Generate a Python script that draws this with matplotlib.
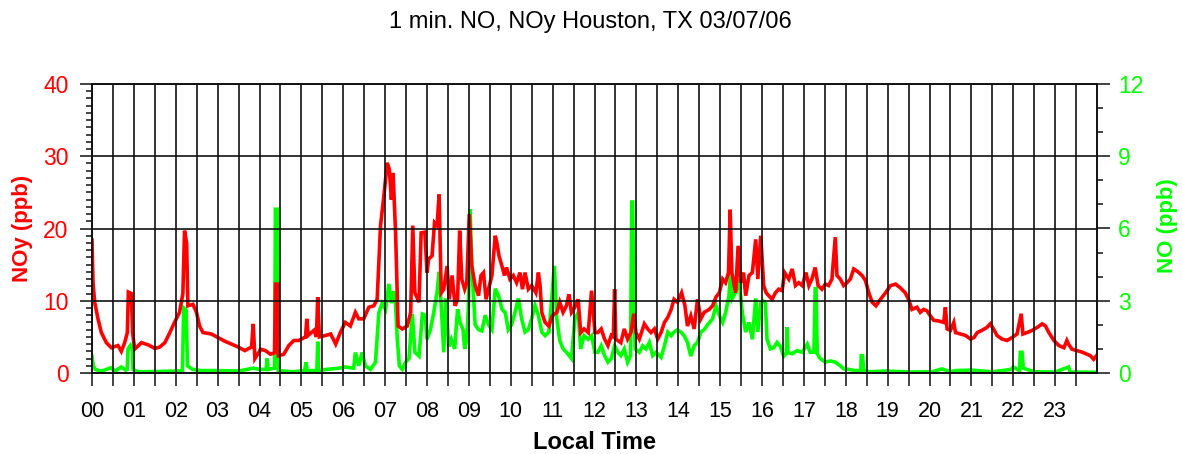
import matplotlib
matplotlib.use('Agg')
import matplotlib.pyplot as plt
import numpy as np

plt.rcParams['font.family'] = ['Liberation Sans', 'DejaVu Sans']

RED = '#FF0000'
GREEN = '#00FF00'
GRID = '#111111'

# NOy (ppb), left axis
noy_hour = [0.0, 0.024, 0.064, 0.143, 0.223, 0.342, 0.462, 0.62, 0.70, 0.78, 0.844, 0.868, 0.94, 0.97,
            1.02, 1.18, 1.34, 1.50, 1.62, 1.74, 1.86, 1.97, 2.09, 2.17, 2.21, 2.26, 2.29, 2.41, 2.49,
            2.57, 2.65, 2.85, 3.01, 3.17, 3.33, 3.49, 3.65, 3.81, 3.85, 3.89, 4.0, 4.02, 4.14, 4.26,
            4.36, 4.38, 4.43, 4.45, 4.58, 4.70, 4.82, 4.94, 5.10, 5.13, 5.16, 5.30, 5.36, 5.39, 5.43,
            5.58, 5.70, 5.82, 5.93, 6.05, 6.17, 6.29, 6.37, 6.49, 6.61, 6.73, 6.81, 6.89, 6.97, 7.05,
            7.10, 7.15, 7.19, 7.25, 7.31, 7.41, 7.53, 7.61, 7.66, 7.71, 7.81, 7.86, 7.95, 8.00, 8.04,
            8.12, 8.18, 8.24, 8.29, 8.34, 8.40, 8.48, 8.53, 8.60, 8.67, 8.73, 8.78, 8.83, 8.90, 8.95,
            9.01, 9.07, 9.15, 9.23, 9.29, 9.35, 9.41, 9.47, 9.55, 9.63, 9.67, 9.72, 9.79, 9.85, 9.90,
            9.98, 10.06, 10.14, 10.22, 10.28, 10.34, 10.42, 10.50, 10.60, 10.66, 10.70, 10.74, 10.82,
            10.91, 10.99, 11.10, 11.17, 11.25, 11.33, 11.39, 11.45, 11.53, 11.61, 11.67, 11.75, 11.85,
            11.93, 12.01, 12.08, 12.16, 12.24, 12.32, 12.40, 12.45, 12.48, 12.51, 12.63, 12.71, 12.79,
            12.87, 12.94, 12.99, 13.07, 13.19, 13.27, 13.35, 13.43, 13.51, 13.59, 13.67, 13.75, 13.83,
            13.90, 13.98, 14.08, 14.16, 14.22, 14.30, 14.38, 14.46, 14.54, 14.62, 14.74, 14.82, 14.90,
            14.98, 15.06, 15.13, 15.20, 15.24, 15.28, 15.37, 15.43, 15.49, 15.56, 15.61, 15.69, 15.77,
            15.85, 15.90, 15.97, 16.04, 16.10, 16.16, 16.24, 16.32, 16.40, 16.48, 16.54, 16.64, 16.72,
            16.80, 16.88, 16.96, 17.05, 17.12, 17.19, 17.27, 17.34, 17.43, 17.51, 17.59, 17.67, 17.75,
            17.79, 17.87, 17.95, 18.03, 18.11, 18.19, 18.27, 18.39, 18.47, 18.55, 18.63, 18.72, 18.83,
            18.95, 19.07, 19.19, 19.30, 19.42, 19.50, 19.58, 19.70, 19.78, 19.86, 19.94, 20.02, 20.10,
            20.22, 20.34, 20.38, 20.42, 20.50, 20.58, 20.62, 20.74, 20.86, 20.98, 21.06, 21.14, 21.25,
            21.37, 21.45, 21.53, 21.61, 21.73, 21.85, 21.97, 22.09, 22.19, 22.23, 22.33, 22.45, 22.57,
            22.69, 22.77, 22.85, 22.97, 23.09, 23.21, 23.28, 23.32, 23.40, 23.52, 23.64, 23.76, 23.84,
            23.92, 23.99]
noy_ppb = [18.4, 12.5, 9.8, 7.5, 5.6, 4.2, 3.5, 3.8, 3.0, 4.2, 5.6, 11.2, 11.0, 5.5,
           3.3, 4.2, 3.9, 3.4, 3.6, 4.2, 5.6, 7.0, 8.4, 11.0, 19.7, 18.0, 9.3, 9.5, 8.5,
           6.5, 5.6, 5.4, 4.9, 4.4, 4.0, 3.6, 3.1, 3.6, 6.8, 2.0, 3.0, 3.3, 3.1, 2.6,
           2.8, 12.3, 12.3, 2.4, 2.6, 3.8, 4.5, 4.5, 5.0, 7.5, 5.2, 5.9, 5.0, 10.5, 5.0,
           5.2, 5.4, 4.0, 5.6, 7.0, 6.5, 8.4, 7.5, 7.5, 9.1, 9.3, 10.2, 20.4, 24.5, 29.1,
           28.2, 24.0, 27.7, 19.4, 6.5, 6.1, 6.5, 8.4, 20.4, 11.1, 9.8, 19.4, 19.5, 13.9, 15.8,
           16.2, 20.8, 20.4, 24.7, 11.1, 11.6, 14.8, 10.2, 13.5, 9.3, 10.2, 19.7, 13.0, 11.6, 12.5,
           22.0, 14.8, 12.1, 10.7, 13.5, 13.9, 10.2, 11.6, 13.5, 19.0, 18.0, 16.2, 14.8, 13.5, 14.6,
           13.0, 13.5, 12.5, 13.9, 11.6, 13.9, 11.6, 12.1, 11.1, 13.9, 12.1, 8.4, 7.0,
           6.5, 7.9, 8.4, 9.8, 8.4, 9.3, 10.9, 8.4, 9.1, 10.2, 5.6, 6.1, 5.6,
           11.4, 5.6, 5.6, 6.1, 4.7, 3.8, 5.2, 5.0, 11.6, 4.7, 4.2, 6.1, 4.7,
           5.6, 8.2, 5.6, 4.7, 6.8, 6.1, 5.6, 6.1, 4.7, 5.6, 7.0, 7.7, 8.8,
           10.2, 9.8, 11.1, 9.3, 6.5, 7.9, 6.1, 10.2, 7.5, 8.4, 8.8, 9.3, 10.5,
           11.1, 13.0, 12.5, 13.9, 22.6, 13.9, 11.1, 17.6, 12.5, 13.9, 10.7, 13.5, 13.9,
           18.5, 13.0, 19.0, 12.1, 11.1, 10.7, 10.2, 11.1, 11.6, 11.4, 13.9, 13.0, 14.4,
           12.1, 12.5, 12.1, 13.9, 12.1, 13.0, 14.6, 12.1, 11.6, 12.3, 12.1, 13.0, 18.8,
           13.5, 13.0, 12.1, 12.5, 13.0, 14.4, 14.1, 13.5, 12.8, 11.1, 9.8, 9.3, 10.2,
           11.1, 12.1, 12.3, 11.8, 11.1, 10.2, 8.8, 9.1, 8.4, 8.8, 8.6, 7.9, 7.3,
           7.2, 7.0, 9.1, 6.1, 5.9, 7.0, 5.6, 5.4, 5.2, 4.7, 4.9, 5.6, 5.9,
           6.3, 6.8, 6.1, 5.2, 4.7, 4.5, 4.9, 5.4, 8.2, 5.4, 5.6, 5.9, 6.3,
           6.8, 6.5, 5.6, 4.5, 3.8, 3.5, 4.5, 4.0, 3.3, 3.1, 2.9, 2.6, 2.4,
           1.9, 2.4]

# NO (ppb), right axis
no_hour = [0.0, 0.03, 0.08, 0.2, 0.3, 0.45, 0.55, 0.7, 0.8, 0.84, 0.86, 0.92, 0.96, 0.98, 1.1,
           1.5, 2.0, 2.16, 2.19, 2.25, 2.28, 2.4, 2.6, 3.0, 3.5, 3.85, 4.0, 4.16, 4.18, 4.21,
           4.36, 4.38, 4.43, 4.45, 4.8, 5.08, 5.11, 5.14, 5.37, 5.39, 5.41, 5.6, 5.9, 6.05,
           6.25, 6.29, 6.37, 6.45, 6.53, 6.65, 6.77, 6.85, 6.93, 7.01, 7.09, 7.15, 7.21, 7.25,
           7.29, 7.34, 7.41, 7.49, 7.57, 7.65, 7.71, 7.81, 7.89, 7.96, 8.00, 8.08, 8.16, 8.24,
           8.29, 8.34, 8.40, 8.45, 8.52, 8.58, 8.66, 8.73, 8.79, 8.86, 8.90, 8.95, 8.99, 9.03,
           9.07, 9.15, 9.23, 9.31, 9.39, 9.47, 9.55, 9.63, 9.71, 9.79, 9.87, 9.94, 10.02, 10.10,
           10.18, 10.26, 10.34, 10.42, 10.50, 10.58, 10.66, 10.74, 10.82, 10.91, 10.98, 11.04,
           11.10, 11.17, 11.25, 11.33, 11.45, 11.53, 11.61, 11.67, 11.75, 11.85, 11.93, 12.01,
           12.08, 12.16, 12.24, 12.32, 12.40, 12.48, 12.56, 12.63, 12.71, 12.79, 12.86, 12.89,
           12.91, 12.94, 12.97, 13.07, 13.15, 13.23, 13.31, 13.39, 13.47, 13.59, 13.67, 13.75,
           13.83, 13.90, 13.98, 14.06, 14.14, 14.22, 14.30, 14.38, 14.46, 14.54, 14.62, 14.70,
           14.82, 14.90, 14.98, 15.06, 15.13, 15.21, 15.25, 15.29, 15.37, 15.45, 15.53, 15.61,
           15.69, 15.77, 15.85, 15.90, 15.97, 16.02, 16.08, 16.12, 16.20, 16.28, 16.36, 16.44,
           16.52, 16.58, 16.60, 16.62, 16.72, 16.84, 16.96, 17.08, 17.15, 17.24, 17.27, 17.29,
           17.32, 17.39, 17.51, 17.63, 17.75, 17.87, 17.95, 18.07, 18.23, 18.36, 18.37, 18.40,
           18.43, 18.55, 18.95, 19.26, 19.58, 20.06, 20.3, 20.5, 20.62, 21.0, 21.5, 21.74, 21.95,
           22.0, 22.15, 22.17, 22.21, 22.24, 22.5, 23.0, 23.32, 23.36, 23.99]
no_ppb = [0.7, 0.3, 0.15, 0.08, 0.12, 0.22, 0.08, 0.25, 0.12, 0.15, 1.0, 1.15, 1.0, 0.15, 0.05,
          0.06, 0.08, 0.1, 2.7, 2.6, 0.3, 0.15, 0.1, 0.1, 0.08, 0.2, 0.15, 0.15, 0.6, 0.15,
          0.2, 6.8, 6.8, 0.1, 0.05, 0.1, 0.45, 0.1, 0.1, 1.3, 0.1, 0.15, 0.2, 0.25,
          0.2, 0.85, 0.3, 0.85, 0.3, 0.15, 0.45, 2.5, 2.9, 2.65, 3.7, 2.9, 3.4, 2.8,
          1.4, 0.3, 0.15, 0.45, 0.6, 2.45, 0.86, 0.7, 2.45, 2.4, 1.4, 1.8, 2.5, 3.35,
          4.2, 2.8, 0.86, 3.1, 1.1, 1.4, 1.0, 2.65, 2.1, 1.8, 1.0, 1.4, 2.8, 6.8,
          4.45, 2.0, 1.8, 1.75, 2.4, 2.0, 1.8, 3.5, 3.2, 2.65, 2.5, 1.8, 2.0, 2.5,
          3.1, 2.25, 1.7, 1.8, 2.25, 2.8, 2.4, 1.7, 1.55, 1.7, 3.1, 4.45,
          2.25, 1.35, 1.0, 0.86, 0.6, 2.25, 2.5, 1.0, 1.55, 1.4, 1.55, 0.86,
          0.86, 1.13, 0.72, 0.45, 0.6, 1.13, 0.86, 0.72, 1.0, 0.45, 0.72, 7.1,
          7.1, 3.35, 1.0, 0.86, 1.13, 1.0, 1.27, 0.72, 0.86, 0.65, 1.13, 1.7,
          1.55, 1.7, 1.8, 1.7, 1.55, 1.27, 0.7, 1.13, 1.27, 1.7, 1.8, 2.0,
          2.25, 2.8, 2.4, 2.1, 2.5, 3.2, 4.2, 3.1, 3.35, 3.9, 2.5, 1.7,
          2.1, 1.4, 3.1, 1.7, 2.9, 3.0, 2.9, 1.4, 1.0, 1.05, 1.27, 1.1,
          0.7, 0.8, 1.9, 0.85, 0.8, 0.93, 0.86, 1.2, 0.86, 0.86, 3.5, 3.5,
          0.8, 0.6, 0.45, 0.5, 0.45, 0.3, 0.17, 0.15, 0.1, 0.1, 0.72, 0.72,
          0.12, 0.05, 0.08, 0.06, 0.04, 0.05, 0.17, 0.05, 0.1, 0.12, 0.05, 0.1, 0.15,
          0.25, 0.1, 0.86, 0.86, 0.2, 0.05, 0.04, 0.25, 0.04, 0.03]

hour_ticks = list(range(24))
hour_labels = ['%02d' % h for h in hour_ticks]

fig = plt.figure(figsize=(11.82, 4.54), dpi=100)
ax = fig.add_axes([92 / 1182, 81 / 454, 1005 / 1182, 289 / 454])
ax2 = ax.twinx()

# NO behind, NOy and grid on top
ax.set_zorder(ax2.get_zorder() + 1)
ax.patch.set_visible(False)

ax2.plot(no_hour, no_ppb, color=GREEN, linewidth=2.6, solid_joinstyle='miter')
ax.plot(noy_hour, noy_ppb, color=RED, linewidth=2.6, solid_joinstyle='miter')

ax.set_xlim(0, 24)
ax.set_ylim(0, 40)
ax2.set_ylim(0, 12)

ax.set_xticks(hour_ticks)
ax.set_xticklabels(hour_labels)
ax.set_xticks(np.arange(0.5, 24, 1), minor=True)
ax.set_yticks([0, 10, 20, 30, 40])
ax.set_yticks(np.arange(0, 41, 1), minor=True)
ax2.set_yticks([0, 3, 6, 9, 12])
ax2.set_yticks(np.arange(0, 13, 1), minor=True)

ax.grid(True, axis='x', which='both', color=GRID, linewidth=1.2)
ax.grid(True, axis='y', which='major', color=GRID, linewidth=1.2)
ax.set_axisbelow(False)

ax.tick_params(axis='x', which='both', length=9, width=1.1, color=GRID,
               labelsize=15.5, pad=11)
ax.tick_params(axis='y', which='major', length=9, width=1.1, color=GRID,
               labelsize=16.5, labelcolor=RED, pad=8)
ax.tick_params(axis='y', which='minor', length=4.5, width=1.1, color=GRID)
ax2.tick_params(axis='y', which='major', length=9, width=1.1, color=GRID,
                labelsize=16.5, labelcolor=GREEN, pad=6)
ax2.tick_params(axis='y', which='minor', length=4.5, width=1.1, color=GRID)

for a in (ax, ax2):
    for spine in a.spines.values():
        spine.set_edgecolor(GRID)
        spine.set_linewidth(1.2)

ax.set_ylabel('NOy (ppb)', color=RED, fontsize=16, fontweight='bold',
              ha='center', va='center')
ax.yaxis.set_label_coords(-0.0687, 0.5)
ax2.set_ylabel('NO (ppb)', color=GREEN, fontsize=16, fontweight='bold',
               rotation=90, ha='center', va='center')
ax2.yaxis.set_label_coords(1.070, 0.51)
ax.set_xlabel('Local Time', fontsize=17, fontweight='bold', ha='center', va='center')
ax.xaxis.set_label_coords(0.5, -0.24)

fig.text(590 / 1182, 1 - 22 / 454, '1 min. NO, NOy Houston, TX 03/07/06',
         ha='center', va='center', fontsize=17)

fig.savefig('out.png', dpi=100, facecolor='white')
